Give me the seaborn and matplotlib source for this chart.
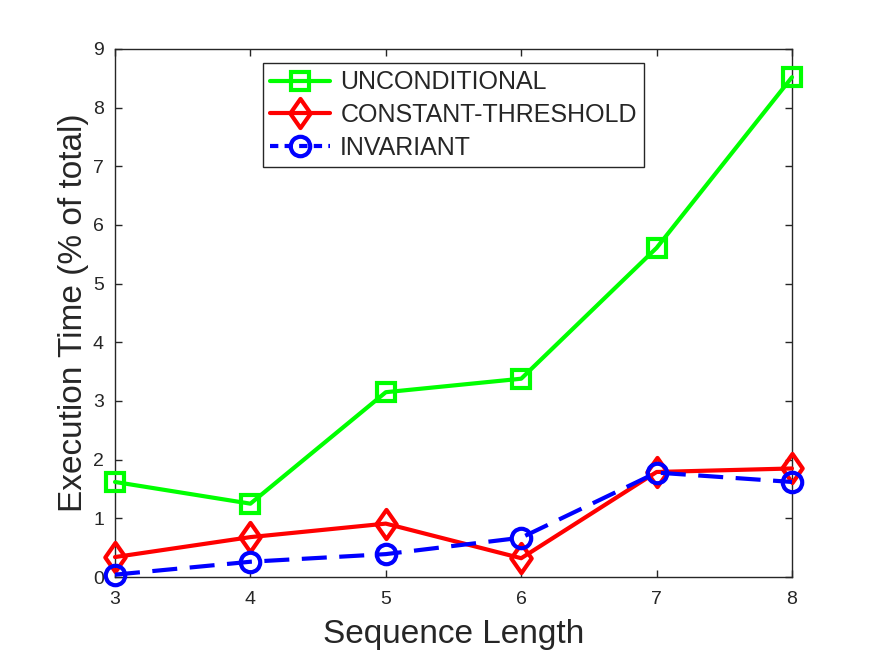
import numpy as np
import pandas as pd
import matplotlib
matplotlib.use("Agg")
import matplotlib.pyplot as plt
from matplotlib.path import Path
import seaborn as sns

seq_len = [3, 4, 5, 6, 7, 8]
unconditional = [1.62, 1.25, 3.15, 3.38, 5.61, 8.52]
constant_threshold = [0.34, 0.68, 0.91, 0.32, 1.79, 1.85]
invariant = [0.04, 0.26, 0.39, 0.67, 1.78, 1.62]
series_names = ["UNCONDITIONAL", "CONSTANT-THRESHOLD", "INVARIANT"]

sns.set_theme(style="white")
plt.rcParams['font.family'] = ['Liberation Sans', 'DejaVu Sans']

fig = plt.figure(figsize=(8.75, 6.56), dpi=100, facecolor="white")
ax = fig.add_axes([115/875, 1 - 577/656, (792-115)/875, (577-49)/656])

diamond = Path([(0, 1), (0.7, 0), (0, -1), (-0.7, 0), (0, 1)],
               [Path.MOVETO, Path.LINETO, Path.LINETO, Path.LINETO, Path.CLOSEPOLY])

styles = [
    dict(color="#00FF00", marker="s", markersize=13, dashes=None),
    dict(color="#FF0000", marker=diamond, markersize=21, dashes=None),
    dict(color="#0000FF", marker="o", markersize=14, dashes=(6, 3)),
]
values = [unconditional, constant_threshold, invariant]

for name, vals, st in zip(series_names, values, styles):
    df = pd.DataFrame({"x": seq_len, "y": vals})
    sns.lineplot(data=df, x="x", y="y", ax=ax, color=st["color"], linewidth=3,
                 marker=st["marker"], markersize=st["markersize"],
                 markerfacecolor="none", markeredgecolor=st["color"],
                 markeredgewidth=3, label=name, clip_on=False, zorder=3)
    if st["dashes"] is not None:
        ax.lines[-1].set_dashes(st["dashes"])

ax.set_xlim(3, 8)
ax.set_ylim(0, 9)
ax.set_xticks(seq_len)
ax.set_yticks(range(0, 10))
ax.set_xlabel("Sequence Length", fontsize=24, color="#262626", labelpad=8)
ax.set_ylabel("Execution Time (% of total)", fontsize=24, color="#262626", labelpad=3)
ax.tick_params(direction="in", length=5, width=1, colors="#262626",
               labelsize=14, top=True, right=True, bottom=True, left=True)
ax.tick_params(axis="x", pad=10)
ax.tick_params(axis="y", pad=8)
for sp in ax.spines.values():
    sp.set_color("#262626")
    sp.set_linewidth(1)
    sp.set_visible(True)
    sp.set_zorder(2)

handles, labels = ax.get_legend_handles_labels()
leg = ax.legend(handles, labels, loc="upper center", bbox_to_anchor=(0.5, 1 - 14/528),
                fontsize=18, frameon=True, fancybox=False, edgecolor="#262626",
                handlelength=2.4, borderaxespad=0, borderpad=0.3, labelspacing=0.35,
                handletextpad=0.4, framealpha=1)
leg.get_frame().set_linewidth(1)
leg.set_zorder(5)
for lh, st in zip(leg.get_lines(), styles):
    if st["dashes"] is not None:
        lh.set_dashes((2, 1.5))

fig.savefig("out.png", dpi=100, facecolor="white")
